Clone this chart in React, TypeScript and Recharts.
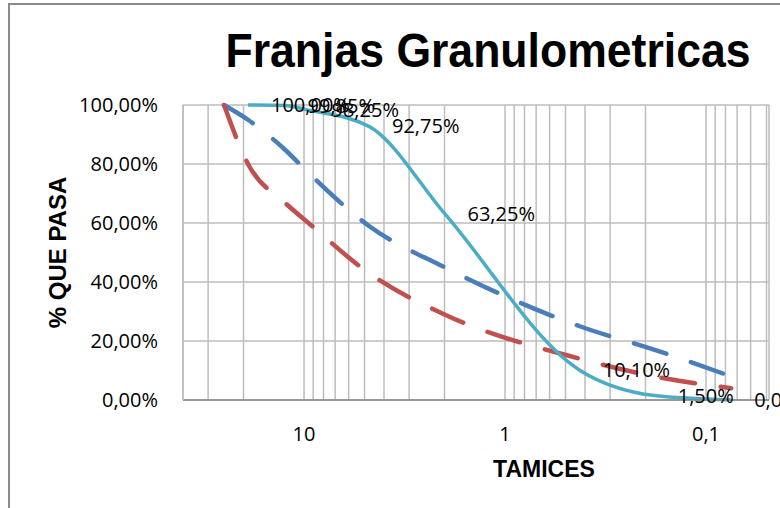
import React from 'react';
import { LineChart, Line, XAxis, YAxis, CartesianGrid, LabelList } from 'recharts';

// sieve openings in mm (1", 3/4", 1/2", 3/8", No.4, No.10, No.40, No.80, No.200)
const sieveSizes = [25, 19, 12.5, 9.5, 4.75, 2, 0.425, 0.18, 0.075];
const upperLimit = [100, 95, 85, 77, 59, 45, 25, 17, 8];
const lowerLimit = [100, 80, 67, 60, 43, 29, 14, 8, 4];

const sampleSizes = [19, 12.5, 9.5, 4.75, 2, 0.425, 0.18, 0.075];
const samplePassing = [100, 99.85, 98.25, 92.75, 63.25, 10.1, 1.5, 0];

const xGridTicks = [
  40, 30, 20, 10, 9, 8, 7, 6, 5, 4, 3, 2, 1, 0.9, 0.8, 0.7, 0.6, 0.5, 0.4, 0.3, 0.2,
  0.1, 0.09, 0.08, 0.07, 0.06, 0.05,
];
const xTickLabels: Record<string, string> = { '10': '10', '1': '1', '0.1': '0,1' };
const yTicks = [0, 20, 40, 60, 80, 100];

const bandRows = sieveSizes.map((size, i) => ({ size, upper: upperLimit[i], lower: lowerLimit[i] }));
const sampleRows = sampleSizes.map((size, i) => ({ size, passing: samplePassing[i] }));

const fmtPct = (v: any) =>
  v === null || v === undefined ? '' : `${Number(v).toFixed(2).replace('.', ',')}%`;

const tickFont = { fontSize: 20, fontFamily: 'Open Sans', fill: '#000' };

const App: React.FC = () => {
  return (
    <div
      style={{
        position: 'fixed',
        left: 0,
        top: 0,
        width: 780,
        height: 508,
        overflow: 'hidden',
        background: '#fff',
      }}
    >
      {/* outer chart frame, runs off the right and bottom edge */}
      <div
        style={{
          position: 'absolute',
          left: 8,
          top: 3,
          width: 900,
          height: 600,
          border: '2px solid #8c8c8c',
          boxSizing: 'border-box',
        }}
      />
      <div style={{ position: 'absolute', left: 0, top: 0 }}>
        <LineChart width={830} height={530} margin={{ top: 105, right: 61, bottom: 50, left: 83 }}>
          <CartesianGrid stroke="#bdbdbd" strokeWidth={1.5} />
          <XAxis
            dataKey="size"
            type="number"
            scale="log"
            domain={[0.0486, 40]}
            allowDataOverflow
            reversed
            ticks={xGridTicks}
            interval={0}
            tickLine={false}
            tickSize={6}
            tickMargin={21}
            height={80}
            axisLine={{ stroke: '#868686', strokeWidth: 1.5 }}
            tick={tickFont}
            tickFormatter={(v) => xTickLabels[String(v)] ?? ''}
          />
          <YAxis
            type="number"
            domain={[0, 100]}
            ticks={yTicks}
            interval={0}
            width={100}
            tickLine={false}
            tickSize={6}
            tickMargin={19}
            axisLine={{ stroke: '#bdbdbd', strokeWidth: 1.5 }}
            tick={tickFont}
            tickFormatter={fmtPct}
          />
          <Line
            data={bandRows}
            dataKey="upper"
            type="monotone"
            stroke="#4a7ebb"
            strokeWidth={4.5}
            strokeDasharray="34 26"
            strokeLinecap="round"
            dot={false}
            isAnimationActive={false}
          />
          <Line
            data={bandRows}
            dataKey="lower"
            type="monotone"
            stroke="#c0504d"
            strokeWidth={4.5}
            strokeDasharray="34 26"
            strokeLinecap="round"
            dot={false}
            isAnimationActive={false}
          />
          <Line
            data={sampleRows}
            dataKey="passing"
            type="monotone"
            stroke="#4bacc6"
            strokeWidth={3.5}
            dot={false}
            isAnimationActive={false}
          >
            <LabelList dataKey="passing" position="right" offset={23} formatter={fmtPct} style={tickFont} />
          </Line>
        </LineChart>
      </div>
      <svg
        width={780}
        height={508}
        style={{ position: 'absolute', left: 0, top: 0, pointerEvents: 'none' }}
      >
        <text
          x={488}
          y={67}
          textAnchor="middle"
          fontFamily="Liberation Sans, Arial, sans-serif"
          fontWeight="bold"
          fontSize={49}
          textLength={525}
          lengthAdjust="spacingAndGlyphs"
        >
          Franjas Granulometricas
        </text>
        <text
          transform="translate(66,252.5) rotate(-90)"
          textAnchor="middle"
          fontFamily="Liberation Sans, Arial, sans-serif"
          fontWeight="bold"
          fontSize={24}
        >
          % QUE PASA
        </text>
        <text
          x={544}
          y={477}
          textAnchor="middle"
          fontFamily="Liberation Sans, Arial, sans-serif"
          fontWeight="bold"
          fontSize={23}
        >
          TAMICES
        </text>
      </svg>
    </div>
  );
};

export default App;
